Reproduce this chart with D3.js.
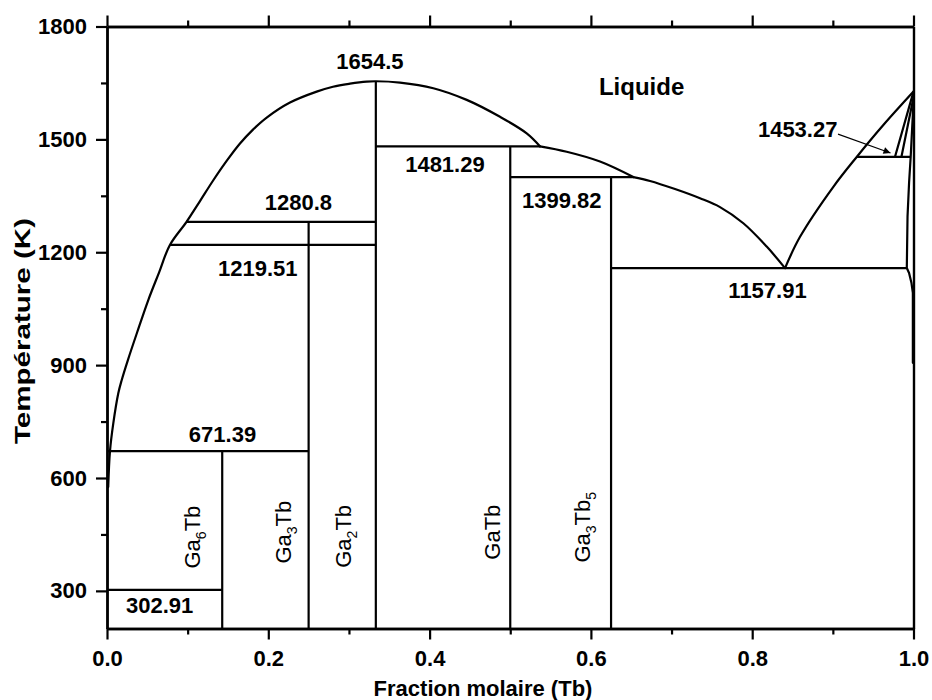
<!DOCTYPE html>
<html>
<head>
<meta charset="utf-8">
<script src="https://cdn.jsdelivr.net/npm/d3@7"></script>
<style>
  html, body { margin: 0; padding: 0; background: #fff; }
  svg { display: block; font-family: "Liberation Sans", Arial, sans-serif; }
</style>
</head>
<body>
<svg id="chart" width="932" height="700"></svg>
<script>
// ---- Ga–Tb phase diagram data ----
const xMajorTicks = [0, 0.2, 0.4, 0.6, 0.8, 1.0];
const xMinorTicks = [0.1, 0.3, 0.5, 0.7, 0.9];
const yMajorTicks = [300, 600, 900, 1200, 1500, 1800];
const yMinorTicks = [450, 750, 1050, 1350, 1650];

// Liquidus (mole fraction Tb, temperature K), split where its slope breaks
// Ga side through the Ga2Tb congruent maximum to the 1481.29 K peritectic
const liqAX = [0.0015, 0.0037, 0.0078, 0.014, 0.0182, 0.026, 0.0372, 0.0512, 0.0645, 0.078, 0.0986,
  0.1153, 0.1314, 0.1488, 0.1649, 0.181, 0.198, 0.2269, 0.26, 0.2802, 0.3013, 0.322, 0.3333,
  0.3633, 0.4046, 0.446, 0.4873, 0.5204, 0.537];
const liqAT = [576, 671.39, 745, 825, 860, 914, 986, 1073, 1146, 1219.51, 1280.8,
  1336, 1390, 1444, 1489, 1526, 1558, 1598, 1627, 1640, 1648, 1653.5, 1654.5,
  1651, 1636, 1605, 1560, 1516, 1481.29];
const liqDX = [0.537, 0.57, 0.6113, 0.6526];
const liqDT = [1481.29, 1467, 1441, 1399.82];
const liqEX = [0.6526, 0.6733, 0.7043, 0.7353, 0.7601, 0.789, 0.818, 0.8407];
const liqET = [1399.82, 1389.5, 1368, 1343.5, 1320, 1277, 1215, 1157.91];
const liqFX = [0.8407, 0.8593, 0.9006, 0.9296, 0.9626, 1.0];
const liqFT = [1157.91, 1241, 1374, 1453.27, 1538, 1627];

// Tb-rich side boundaries
const tbSolidusX = [1.0, 0.977];
const tbSolidusT = [1627, 1453.27];
const tbInnerX = [1.0, 0.985];
const tbInnerT = [1612, 1453.27];
const tbSolvusX = [1.0, 0.9965, 0.9945, 0.9926, 0.9917, 0.9945, 0.9975, 0.9992, 0.9992, 0.9992];
const tbSolvusT = [1600, 1453.27, 1384, 1295, 1157.91, 1145, 1118, 1092, 940, 906];

// Invariant (horizontal) reactions
const invariantT    = [302.91, 671.39, 1219.51, 1280.8, 1481.29, 1399.82, 1157.91, 1453.27];
const invariantFrom = [0, 0, 0.078, 0.0986, 0.3333, 0.5, 0.625, 0.9296];
const invariantTo   = [0.142857, 0.25, 0.3333, 0.3333, 0.537, 0.6526, 0.9917, 0.9965];

// Intermetallic compounds
const compoundNames = ["Ga6Tb", "Ga3Tb", "Ga2Tb", "GaTb", "Ga3Tb5"];
const compoundX     = [1 / 7, 1 / 4, 1 / 3, 1 / 2, 5 / 8];
const compoundTop   = [671.39, 1280.8, 1654.5, 1481.29, 1399.82];
const compoundParts = [["Ga", "6", "Tb", ""], ["Ga", "3", "Tb", ""], ["Ga", "2", "Tb", ""], ["Ga", "", "Tb", ""], ["Ga", "3", "Tb", "5"]];

// ---- layout ----
const svg = d3.select("#chart");
const x = d3.scaleLinear().domain([0, 1]).range([107, 913.5]);
const y = d3.scaleLinear().domain([200, 1800]).range([628.5, 26.5]);

const ink = "#000";
const lineW = 2.2;
const fontSize = 22;

function styleAxis(g) {
  g.selectAll("path.domain").attr("stroke", ink).attr("stroke-width", 2.4);
  g.selectAll(".tick line").attr("stroke", ink).attr("stroke-width", 2.2);
  g.selectAll(".tick text").attr("fill", ink).attr("font-size", fontSize).attr("font-weight", "bold")
    .attr("font-family", '"Liberation Sans", Arial, sans-serif');
}

// Bottom axis (labelled) and minor ticks
const fmtX = d3.format(".1f");
svg.append("g").attr("transform", `translate(0,${y(200)})`)
  .call(d3.axisBottom(x).tickValues(xMajorTicks).tickFormat(fmtX).tickSize(11).tickSizeOuter(0).tickPadding(11))
  .call(styleAxis);
svg.append("g").attr("transform", `translate(0,${y(200)})`)
  .call(d3.axisBottom(x).tickValues(xMinorTicks).tickFormat("").tickSize(6).tickSizeOuter(0)).call(styleAxis);

// Left axis (labelled) and minor ticks
svg.append("g").attr("transform", `translate(${x(0)},0)`)
  .call(d3.axisLeft(y).tickValues(yMajorTicks).tickFormat(d3.format("d")).tickSize(11).tickSizeOuter(0).tickPadding(9))
  .call(styleAxis);
svg.append("g").attr("transform", `translate(${x(0)},0)`)
  .call(d3.axisLeft(y).tickValues(yMinorTicks).tickFormat("").tickSize(6).tickSizeOuter(0)).call(styleAxis);

// Top axis: ticks only
svg.append("g").attr("transform", `translate(0,${y(1800)})`)
  .call(d3.axisTop(x).tickValues(xMajorTicks).tickFormat("").tickSize(11).tickSizeOuter(0)).call(styleAxis);
svg.append("g").attr("transform", `translate(0,${y(1800)})`)
  .call(d3.axisTop(x).tickValues(xMinorTicks).tickFormat("").tickSize(6).tickSizeOuter(0)).call(styleAxis);

// Right frame line
svg.append("g").attr("transform", `translate(${x(1)},0)`)
  .call(d3.axisRight(y).tickValues([]).tickSizeOuter(0)).call(styleAxis);

// Axis titles
svg.append("text").attr("x", 483).attr("y", 696).attr("text-anchor", "middle")
  .attr("font-size", fontSize).attr("font-weight", "bold").attr("fill", ink)
  .text("Fraction molaire (Tb)");
svg.append("text").attr("transform", `translate(30,331) rotate(-90)`)
  .attr("text-anchor", "middle").attr("font-size", fontSize).attr("font-weight", "bold").attr("fill", ink)
  .attr("textLength", 226).attr("lengthAdjust", "spacingAndGlyphs")
  .text("Température (K)");

// Phase boundaries
const plot = svg.append("g");
const smooth = d3.line().x(d => x(d[0])).y(d => y(d[1])).curve(d3.curveCatmullRom.alpha(0.5));
const straight = d3.line().x(d => x(d[0])).y(d => y(d[1]));
function drawCurve(xs, ts, gen) {
  plot.append("path").datum(xs.map((v, i) => [v, ts[i]]))
    .attr("d", gen).attr("fill", "none").attr("stroke", ink)
    .attr("stroke-width", lineW).attr("stroke-linejoin", "round").attr("stroke-linecap", "round");
}
[[liqAX, liqAT], [liqDX, liqDT], [liqEX, liqET], [liqFX, liqFT]]
  .forEach(([xs, ts]) => drawCurve(xs, ts, smooth));
drawCurve(tbSolidusX, tbSolidusT, straight);
drawCurve(tbInnerX, tbInnerT, straight);
drawCurve(tbSolvusX, tbSolvusT, straight);

plot.selectAll("line.inv").data(invariantT).join("line").attr("class", "inv")
  .attr("x1", (d, i) => x(invariantFrom[i])).attr("x2", (d, i) => x(invariantTo[i]))
  .attr("y1", d => y(d)).attr("y2", d => y(d))
  .attr("stroke", ink).attr("stroke-width", lineW);

plot.selectAll("line.cmp").data(compoundX).join("line").attr("class", "cmp")
  .attr("x1", d => x(d)).attr("x2", d => x(d))
  .attr("y1", y(200)).attr("y2", (d, i) => y(compoundTop[i]))
  .attr("stroke", ink).attr("stroke-width", lineW);

// Compound labels (vertical, with subscripts)
const cmpLabelAt = [[0.1153, 443], [0.228, 456], [0.3025, 445], [0.4873, 456], [0.5989, 469]];
compoundParts.forEach((parts, i) => {
  const t = svg.append("text")
    .attr("transform", `translate(${x(cmpLabelAt[i][0])},${y(cmpLabelAt[i][1])}) rotate(-90)`)
    .attr("text-anchor", "middle").attr("font-size", fontSize).attr("fill", ink);
  t.append("tspan").text(parts[0]);
  if (parts[1]) t.append("tspan").attr("font-size", 14).attr("dy", 6).text(parts[1]);
  t.append("tspan").attr("dy", parts[1] ? -6 : 0).text(parts[2]);
  if (parts[3]) t.append("tspan").attr("font-size", 14).attr("dy", 6).text(parts[3]);
});

// Temperature annotations
const valueLabelAt = [
  [302.91, 0.0653, 613], [671.39, 0.1432, 441.7], [1219.51, 0.187, 276], [1280.8, 0.2374, 210],
  [1481.29, 0.419, 171.7], [1399.82, 0.5638, 208], [1157.91, 0.819, 298], [1453.27, 0.8564, 137],
  [1654.5, 0.326, 69]
];
svg.selectAll("text.val").data(valueLabelAt).join("text").attr("class", "val")
  .attr("x", d => x(d[1])).attr("y", d => d[2])
  .attr("text-anchor", "middle").attr("font-size", fontSize).attr("font-weight", "bold").attr("fill", ink)
  .text(d => String(d[0]));

svg.append("text").attr("x", x(0.6629)).attr("y", 95).attr("text-anchor", "middle")
  .attr("font-size", 24).attr("font-weight", "bold").attr("fill", ink).text("Liquide");

// Pointer to the 1453.27 K reaction
svg.append("defs").append("marker").attr("id", "head")
  .attr("viewBox", "0 0 10 10").attr("refX", 10).attr("refY", 5)
  .attr("markerWidth", 9).attr("markerHeight", 7).attr("markerUnits", "userSpaceOnUse")
  .attr("orient", "auto")
  .append("path").attr("d", "M0,0 L10,5 L0,10 z").attr("fill", ink);
svg.append("line")
  .attr("x1", x(0.9064)).attr("y1", y(1514)).attr("x2", x(0.9715)).attr("y2", y(1464))
  .attr("stroke", ink).attr("stroke-width", 1.1).attr("marker-end", "url(#head)");
</script>
</body>
</html>
